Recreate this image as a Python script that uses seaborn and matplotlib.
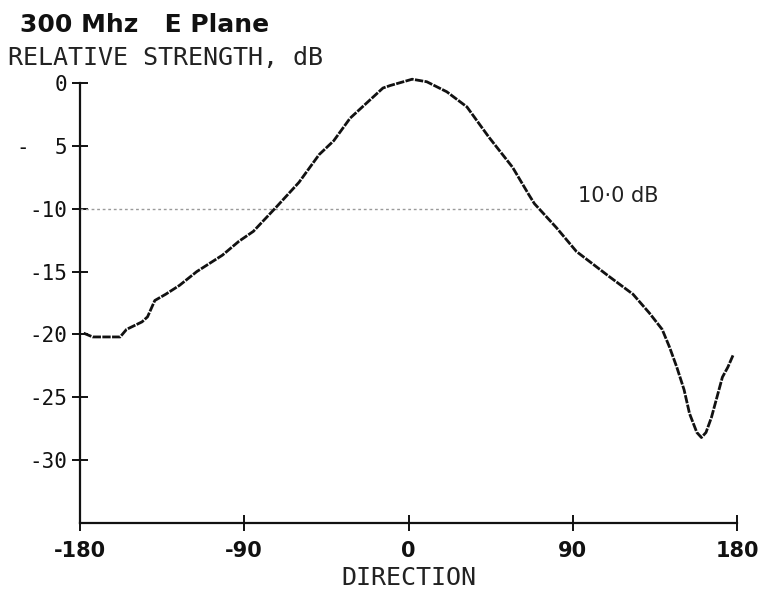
import matplotlib
matplotlib.use("Agg")
import matplotlib.pyplot as plt
import seaborn as sns
import pandas as pd

# ---- data ----
direction = [-178, -173, -158, -154.5, -146, -143, -139, -133, -125.5, -116, -102, -93,
             -85, -72, -60, -49, -41, -32, -23, -14, -10, 2, 10, 21, 32, 44, 57, 66, 69,
             81, 92, 110, 123, 132, 139, 143, 147, 151, 154, 158, 160.5, 163, 166, 169,
             172, 175, 178]
strength = [-19.9, -20.2, -20.2, -19.6, -19.0, -18.6, -17.3, -16.8, -16.1, -15.0, -13.7,
            -12.6, -11.8, -9.8, -7.9, -5.7, -4.6, -2.8, -1.6, -0.4, -0.2, 0.3, 0.1, -0.7,
            -1.9, -4.3, -6.7, -8.9, -9.6, -11.5, -13.4, -15.4, -16.8, -18.3, -19.6, -21.0,
            -22.6, -24.4, -26.3, -27.8, -28.2, -27.8, -26.6, -25.0, -23.4, -22.6, -21.6]

x_ticks = [-180, -90, 0, 90, 180]
x_tick_labels = ["-180", "-90", "0", "90", "180"]
y_ticks = [0, -5, -10, -15, -20, -25, -30]
y_tick_labels = ["0", "-  5", "-10", "-15", "-20", "-25", "-30"]
ref_level = -10
ref_end = 67

title_text = "300 Mhz   E Plane"
ylabel_text = "RELATIVE STRENGTH, dB"
xlabel_text = "DIRECTION"
note_text = "10·0 dB"

df = pd.DataFrame({"direction": direction, "strength": strength})

sns.set_theme(style="white")
plt.rcParams["font.family"] = ["DejaVu Sans"]

W, H = 762, 596
fig = plt.figure(figsize=(W / 100, H / 100), dpi=100)
fig.patch.set_facecolor("white")
ax = fig.add_axes([80 / W, 1 - 523 / H, (737 - 80) / W, (523 - 83) / H])
ax.set_facecolor("white")

# reference dotted line at -10 dB
ax.plot([-180, ref_end], [ref_level, ref_level], color="#9a9a9a", lw=1.0,
        linestyle=(0, (2, 2)), zorder=1)

sns.lineplot(data=df, x="direction", y="strength", sort=False, estimator=None,
             color="#111111", linewidth=2.0, ax=ax, zorder=3)
curve = ax.lines[-1]
curve.set_linestyle((0, (3, 0.5)))
curve.set_clip_on(False)

ax.set_xlim(-180, 180)
ax.set_ylim(-35, 0)

for s in ["top", "right"]:
    ax.spines[s].set_visible(False)
for s in ["left", "bottom"]:
    ax.spines[s].set_color("#111111")
    ax.spines[s].set_linewidth(1.6)

ax.set_xticks(x_ticks)
ax.set_xticklabels(x_tick_labels, fontsize=15, fontweight="bold", color="#111111")
ax.set_yticks(y_ticks)
ax.set_yticklabels(y_tick_labels, fontsize=15, family="DejaVu Sans Mono", color="#222222")
ax.tick_params(axis="x", bottom=True, direction="inout", length=12, width=1.4, pad=7,
               colors="#111111")
ax.tick_params(axis="y", left=True, direction="inout", length=12, width=1.4, pad=3,
               colors="#111111")

ax.set_xlabel("")
ax.set_ylabel("")

ax.text(93, -9.0, note_text, fontsize=15, color="#222222", va="center", ha="left")

fig.text(20 / W, 1 - 25 / H, title_text, fontsize=18, fontweight="bold",
         color="#111111", va="center", ha="left")
fig.text(8 / W, 1 - 58 / H, ylabel_text, fontsize=18, family="DejaVu Sans Mono",
         color="#222222", va="center", ha="left")
fig.text(409 / W, 1 - 578 / H, xlabel_text, fontsize=18, family="DejaVu Sans Mono",
         color="#222222", va="center", ha="center")

fig.savefig("out.png", dpi=100, facecolor="white")
